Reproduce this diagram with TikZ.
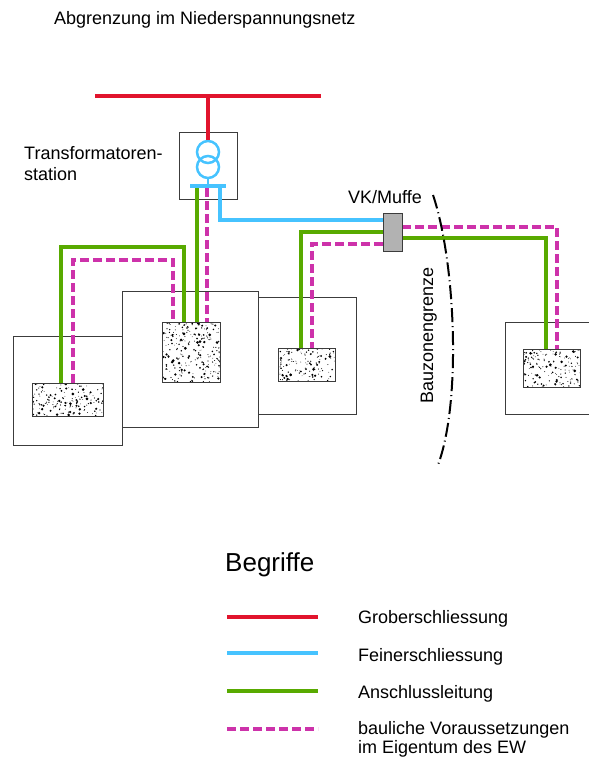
\documentclass[tikz,border=0pt]{standalone}
\usepackage{fontspec}
\setmainfont{Liberation Sans}
\usepackage{xcolor}
\usetikzlibrary{calc}
\definecolor{grobred}{RGB}{225, 20, 45}
\definecolor{feinblue}{RGB}{70, 195, 255}
\definecolor{anschlgreen}{RGB}{88, 170, 0}
\definecolor{baumagenta}{RGB}{205, 50, 170}
\definecolor{muffegray}{RGB}{178, 178, 178}
\definecolor{housegray}{RGB}{60, 60, 60}

\begin{document}
\begin{tikzpicture}[x = 1pt, y = -1pt,
	every node/.style = {font = \fontsize{18}{21}\selectfont, inner sep = 0pt},
	house/.style = {draw = housegray, line width = 1pt},
	concrete/.style = {draw = housegray, line width = 1pt, fill = white,
		path picture = {
			\foreach \k in {1,...,#1}
				\fill[black] let \p1 = (path picture bounding box.south west),
					\p2 = (path picture bounding box.north east) in
					({\x1 + rnd*(\x2 - \x1)}, {\y1 + rnd*(\y2 - \y1)})
					circle [radius = {0.35pt + rnd*rnd*1.3pt}];
		}},
	grob/.style = {grobred, line width = 4pt},
	fein/.style = {feinblue, line width = 4pt},
	anschl/.style = {anschlgreen, line width = 4pt},
	bau/.style = {baumagenta, line width = 4pt, dash pattern = on 9pt off 4pt}]
		\pgfmathsetseed{42}
		\useasboundingbox (0,0) rectangle (589,758);

		% houses and foundations
		\node (hL) at (67.5,390.5) [house, minimum width = 109pt, minimum height = 109pt] {};
		\node (hM) at (190,359) [house, minimum width = 136pt, minimum height = 136pt] {};
		\node (hR) at (307,355.5) [house, minimum width = 98pt, minimum height = 117pt] {};
		\node (hF) at (550,368) [house, minimum width = 90pt, minimum height = 92pt] {};
		\node (cL) at (67.5,399.5) [concrete = 170, minimum width = 71pt, minimum height = 33pt] {};
		\node (cM) at (191,352) [concrete = 250, minimum width = 58pt, minimum height = 60pt] {};
		\node (cR) at (306.5,364.5) [concrete = 140, minimum width = 57pt, minimum height = 33pt] {};
		\node (cF) at (551.5,368) [concrete = 160, minimum width = 57pt, minimum height = 38pt] {};

		% transformer station
		\node (ts) at (208,165.5) [house, minimum width = 58pt, minimum height = 67pt] {};
		\coordinate (rw) at (95,96);
		\coordinate (re) at (321,96);
		\coordinate (bw) at (190,186);
		\coordinate (be) at (226,186);
		\coordinate (bA) at (197,186);
		\coordinate (bB) at (207,188);
		\coordinate (bC) at (220,186);
		\coordinate (mc) at (392.5,232);

		% lines
		\draw[anschl] (bA) -- (bA |- cM.north);
		\draw[bau] (bB) -- (bB |- cM.north);
		\draw[anschl] ([xshift = -6.5pt]cL.north) -- ++(0,-136) -| ([xshift = -7pt]cM.north);
		\draw[bau] ([xshift = 5.5pt]cL.north) -- ++(0,-123) -| ([xshift = -18pt]cM.north);
		\draw[anschl] ([xshift = -9.5pt]mc) -| ([xshift = -5.5pt]cR.north);
		\draw[bau] ([xshift = -9.5pt, yshift = -12pt]mc) -| ([xshift = 5.5pt]cR.north);
		\draw[anschl] ([xshift = 9.5pt, yshift = -6pt]mc) -| ([xshift = -5.5pt]cF.north);
		\draw[bau] ([xshift = 9.5pt, yshift = 5pt]mc) -| ([xshift = 5.5pt]cF.north);
		\draw[fein] (bC) |- ([xshift = -9.5pt, yshift = 12pt]mc);
		\node (mu) at (mc) [draw = housegray, fill = muffegray, line width = 1pt,
			minimum width = 19pt, minimum height = 38pt] {};

		\node (t1) at (208,152) [circle, draw = feinblue, line width = 2.5pt, minimum size = 22pt] {};
		\node (t2) at (208,167) [circle, draw = feinblue, line width = 2.5pt, minimum size = 22pt] {};
		\draw[fein, line width = 2.5pt] (t2.south) -- (t2.south |- bw);
		\draw[fein] (bw) -- (be);
		\draw[grob] (rw) -- (re);
		\draw[grob] (t1.north |- rw) -- (t1.north);

		% Bauzonengrenze
		\coordinate (bzA) at (433,195);
		\coordinate (bzB) at (438,465);
		\draw[line width = 2pt, dash pattern = on 14pt off 4pt on 1pt off 4pt]
			(bzA) .. controls (455,260) and (462,400) .. (bzB);
		\node (bz) at (433,335.5) [rotate = 90, anchor = base] {Bauzonengrenze};

		% labels
		\node (title) at (54,24) [anchor = base west] {Abgrenzung im Niederspannungsnetz};
		\node (tslabel) at (24,180.3) [anchor = base west, align = left] {Transformatoren-\\station};
		\node (mulabel) at (348,203.3) [anchor = base west] {VK/Muffe};

		% legend
		\node (begriffe) at (225,571.7) [anchor = base west, font = \fontsize{26}{29}\selectfont] {Begriffe};
		\draw[grob] (227,617) -- (318,617);
		\draw[fein] (227,653) -- (318,653);
		\draw[anschl] (227,691) -- (318,691);
		\draw[bau] (227,729) -- (318,729);
		\node (lgrob) at (358,623.5) [anchor = base west] {Groberschliessung};
		\node (lfein) at (358,661.5) [anchor = base west] {Feinerschliessung};
		\node (lanschl) at (358,698.5) [anchor = base west] {Anschlussleitung};
		\node (lbau) at (358,753.5) [anchor = base west, align = left,
			font = \fontsize{18}{19}\selectfont] {bauliche Voraussetzungen\\im Eigentum des EW};
\end{tikzpicture}
\end{document}
